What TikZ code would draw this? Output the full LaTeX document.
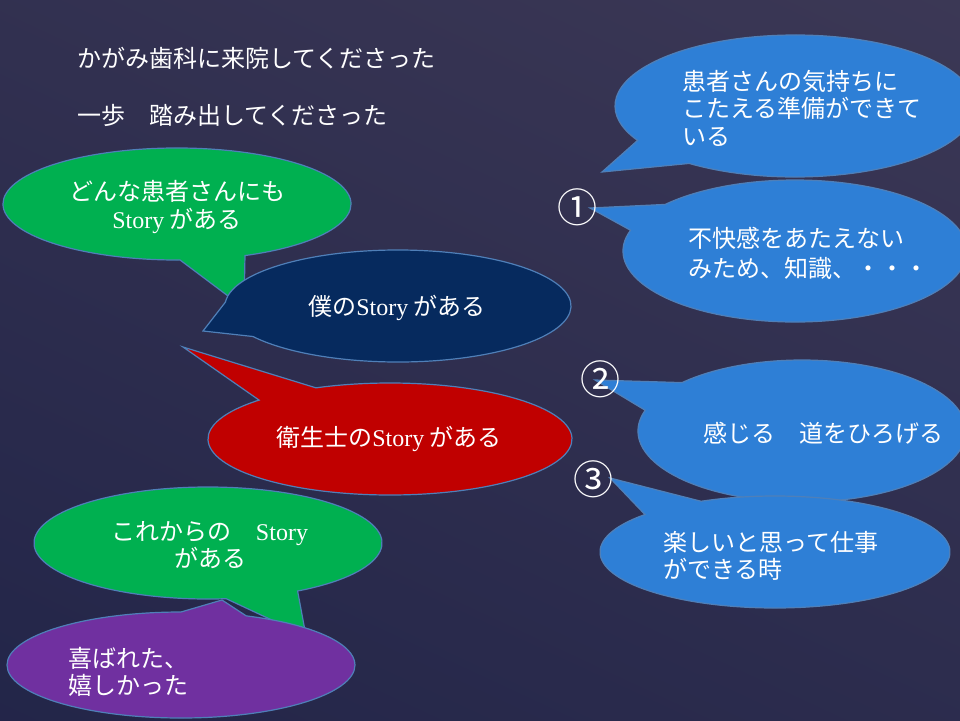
\documentclass[tikz,border=0pt]{standalone}
\usepackage{fontspec}
\setmainfont{Liberation Serif}
\newfontfamily\jp{Noto Sans CJK JP}
\usetikzlibrary{calc}
\definecolor{bgtop}{HTML}{3D3956}
\definecolor{bgbot}{HTML}{212448}
\definecolor{bubedge}{HTML}{4F7FB8}
\definecolor{cgreen}{HTML}{00B050}
\definecolor{cnavy}{HTML}{062A5E}
\definecolor{cred}{HTML}{C00000}
\definecolor{cpurple}{HTML}{7030A0}
\definecolor{cblue}{HTML}{2E7FD6}
\newcommand\storyword{{\rmfamily Story}}
% fill, cx, cy, rx, ry, a1, a2, tip
\newcommand\spbubble[8]{%
  \filldraw[bub,fill=#1] ($(#2,#3)+(#7:#4pt and #5pt)$)
    arc[start angle=#7, end angle={#6+360}, x radius=#4pt, y radius=#5pt]
    -- #8 -- cycle;}
\tikzset{
  bub/.style={draw=bubedge, line width=1.2pt, line join=miter},
  txt/.style={text=white, inner sep=0pt, font=\jp\fontsize{24}{27.5}\selectfont},
  num/.style={text=white, inner sep=0pt, font=\jp\fontsize{40}{40}\selectfont},
}
\begin{document}
\begin{tikzpicture}[x=1pt,y=-1pt]
\useasboundingbox (0,0) rectangle (960,720);
\clip (0,0) rectangle (960,720);
\shade[top color=bgtop, bottom color=bgbot, shading angle=-25] (-200,-200) rectangle (1160,920);

% tips
\coordinate (tipA) at (244,308);
\coordinate (tipB) at (203,331);
\coordinate (tipC) at (183,347);
\coordinate (tipD) at (306,636);
\coordinate (tipE) at (222,600);
\coordinate (tipF) at (602,172);
\coordinate (tipG) at (590,208);
\coordinate (tipH) at (595,380);
\coordinate (tipI) at (610,478);

% left bubbles
\spbubble{cgreen}{177}{204}{174}{56}{-89}{-67}{(tipA)}
\spbubble{cnavy}{398}{306}{173}{56}{176}{213}{(tipB)}
\spbubble{cred}{390}{439}{182}{56}{114}{136}{(tipC)}
\spbubble{cgreen}{208}{543}{174}{56}{-84}{-59}{(tipD)}
\spbubble{cpurple}{181}{665}{174}{53}{68}{90}{(tipE)}

% right bubbles
\spbubble{cblue}{795}{106}{180}{71}{209}{234}{(tipF)}
\spbubble{cblue}{795}{251}{172}{71}{139}{163}{(tipG)}
\spbubble{cblue}{802}{431}{164}{71}{137}{163}{(tipH)}
\spbubble{cblue}{775}{552}{175}{56}{115}{138}{(tipI)}

% titles
\node[txt, anchor=west] (t1) at (77,58) {かがみ歯科に来院してくださった};
\node[txt, anchor=west] (t2) at (77,115) {一歩　踏み出してくださった};

% left texts
\node[txt, align=center] (g1) at (177,207) {どんな患者さんにも\\\storyword\ がある};
\node[txt] (nv) at (397,308) {僕の\storyword\ がある};
\node[txt] (rd) at (389,439) {衛生士の\storyword\ がある};
\node[txt, align=center] (g2) at (210,545) {これからの　\storyword\\がある};
\node[txt, align=left, anchor=west] (pp) at (68,672) {喜ばれた、\\嬉しかった};

% right texts
\node[txt, align=left, anchor=west, font=\jp\fontsize{24}{27.5}\selectfont] (b1) at (682,108) {患者さんの気持ちに\\こたえる準備ができて\\いる};
\node[txt, align=left, anchor=west, font=\jp\fontsize{24}{30}\selectfont] (b2) at (688,253) {不快感をあたえない\\みため、知識、・・・};
\node[txt, anchor=west] (b3) at (703,433) {感じる　道をひろげる};
\node[txt, align=left, anchor=west, font=\jp\fontsize{24}{26.5}\selectfont] (b4) at (663,556) {楽しいと思って仕事\\ができる時};

% numbers
\node[num] (n1) at (577,207) {①};
\node[num] (n2) at (600,379) {②};
\node[num] (n3) at (593,479) {③};
\end{tikzpicture}
\end{document}
